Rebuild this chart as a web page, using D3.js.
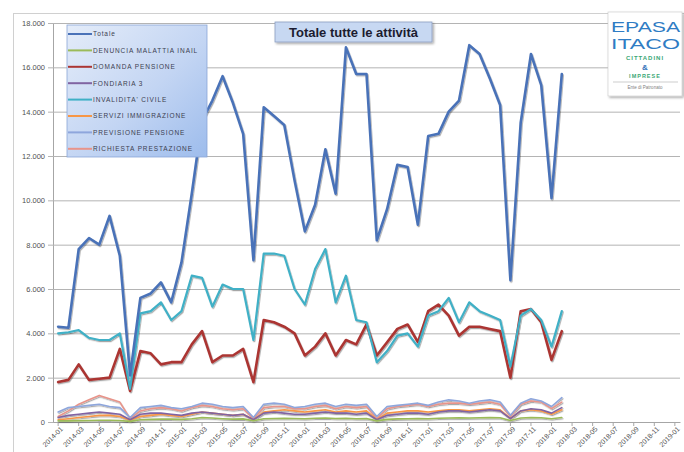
<!DOCTYPE html>
<html>
<head>
<meta charset="utf-8">
<script src="https://cdn.jsdelivr.net/npm/d3@7"></script>
<style>
  html, body { margin: 0; padding: 0; background: #fff; }
  svg { display: block; font-family: "Liberation Sans", Arial, sans-serif; }
</style>
</head>
<body>
<svg id="chart" width="684" height="452"></svg>
<script>
// Monthly categories on the x axis (the last months have no data yet)
const months = [
  "2014-01","2014-02","2014-03","2014-04","2014-05","2014-06","2014-07","2014-08","2014-09","2014-10","2014-11","2014-12",
  "2015-01","2015-02","2015-03","2015-04","2015-05","2015-06","2015-07","2015-08","2015-09","2015-10","2015-11","2015-12",
  "2016-01","2016-02","2016-03","2016-04","2016-05","2016-06","2016-07","2016-08","2016-09","2016-10","2016-11","2016-12",
  "2017-01","2017-02","2017-03","2017-04","2017-05","2017-06","2017-07","2017-08","2017-09","2017-10","2017-11","2017-12",
  "2018-01","2018-02","2018-03","2018-04","2018-05","2018-06","2018-07","2018-08","2018-09","2018-10","2018-11","2018-12",
  "2019-01"
];

const seriesNames = [
  "Totale",
  "DENUNCIA MALATTIA INAIL",
  "DOMANDA PENSIONE",
  "FONDIARIA 3",
  "INVALIDITA' CIVILE",
  "SERVIZI IMMIGRAZIONE",
  "PREVISIONE PENSIONE",
  "RICHIESTA PRESTAZIONE"
];

const totale = [4300,4250,7800,8300,8000,9300,7500,2100,5600,5800,6300,5400,7200,10300,13600,14500,15600,14400,13000,7300,
  14200,13800,13400,10900,8600,9800,12300,10300,16900,15700,15700,8200,9600,11600,11500,8900,12900,13000,14000,14500,
  17000,16600,15500,14300,6400,13500,16600,15200,10100,15700];
const denunciaMalattia = [50,50,60,70,80,80,70,30,100,120,130,130,120,150,200,180,150,130,140,60,
  150,160,170,160,150,170,180,160,170,150,160,50,120,140,150,160,150,170,180,190,
  180,190,200,190,70,180,200,190,150,200];
const domandaPensione = [1800,1900,2600,1900,1950,2000,3300,1400,3200,3100,2600,2700,2700,3500,4100,2700,3000,3000,3300,1800,
  4600,4500,4300,4000,3000,3400,4000,3000,3700,3500,4400,3000,3600,4200,4400,3600,5000,5300,4800,3900,
  4300,4300,4200,4100,2000,5000,5100,4500,2800,4100];
const fondiaria = [200,300,350,400,450,400,350,100,350,400,400,350,300,400,450,400,350,300,350,100,
  400,450,400,350,350,400,450,400,400,350,400,100,300,350,400,400,350,450,500,500,
  450,500,550,500,150,500,600,550,400,650];
const invaliditaCivile = [4000,4050,4150,3800,3700,3700,4000,1500,4900,5000,5400,4600,5000,6600,6500,5200,6200,6000,6000,3700,
  7600,7600,7500,6000,5300,6900,7800,5400,6600,4600,4500,2700,3200,3900,4000,3400,4800,5000,5600,4500,
  5400,5000,4800,4600,2500,4800,5100,4600,3400,5000];
const serviziImmigrazione = [100,150,200,250,300,300,250,80,250,300,350,300,250,350,450,400,350,300,350,100,
  450,500,550,500,450,500,550,450,500,450,500,100,400,450,500,500,450,500,550,550,
  500,550,600,550,150,500,550,500,350,550];
const previsionePensione = [450,650,700,750,800,700,650,200,650,700,750,650,600,700,850,800,700,650,700,200,
  800,850,800,650,700,800,850,700,800,750,800,250,700,750,800,850,750,900,1000,950,
  850,950,1000,900,300,850,1050,950,700,1100];
const richiestaPrestazione = [250,500,800,1000,1200,1050,900,150,500,600,650,600,500,650,750,700,600,550,600,150,
  650,700,700,600,600,700,750,600,700,650,700,150,600,700,750,800,700,800,850,850,
  800,850,900,800,250,800,950,900,600,900];

const yTickValues = [0,2000,4000,6000,8000,10000,12000,14000,16000,18000];
const yTickLabels = ["0","2.000","4.000","6.000","8.000","10.000","12.000","14.000","16.000","18.000"];
const xTickLabels = months.filter((m, i) => i % 2 === 0);

const seriesValues = [totale, denunciaMalattia, domandaPensione, fondiaria,
  invaliditaCivile, serviziImmigrazione, previsionePensione, richiestaPrestazione];
const seriesColors = ["#4a72b8","#9bbb59","#ab3533","#8064a2","#3fb0c6","#f79646","#8ea6dc","#e8948a"];
const seriesWidths = [2.6, 1.6, 2.6, 1.6, 2.2, 1.6, 1.6, 1.6];

const svg = d3.select("#chart");
const defs = svg.append("defs");

const shadow = defs.append("filter").attr("id", "lineShadow")
  .attr("x", "-5%").attr("y", "-5%").attr("width", "110%").attr("height", "110%");
shadow.append("feDropShadow").attr("dx", 0.8).attr("dy", 1.2)
  .attr("stdDeviation", 0.7).attr("flood-color", "#000").attr("flood-opacity", 0.35);

const boxShadow = defs.append("filter").attr("id", "boxShadow")
  .attr("x", "-10%").attr("y", "-10%").attr("width", "130%").attr("height", "130%");
boxShadow.append("feDropShadow").attr("dx", 1.5).attr("dy", 1.5)
  .attr("stdDeviation", 1.2).attr("flood-color", "#000").attr("flood-opacity", 0.35);

const legendGrad = defs.append("linearGradient").attr("id", "legendFill")
  .attr("x1", "0").attr("y1", "0").attr("x2", "1").attr("y2", "1");
legendGrad.append("stop").attr("offset", "0").attr("stop-color", "#e4ecf9");
legendGrad.append("stop").attr("offset", "0.55").attr("stop-color", "#c3d5f3");
legendGrad.append("stop").attr("offset", "1").attr("stop-color", "#9dbcec");

// Chart frame
svg.append("rect").attr("x", 13.5).attr("y", 13.5).attr("width", 700).attr("height", 500)
  .attr("fill", "none").attr("stroke", "#d0d0d0").attr("stroke-width", 1);

const plot = { left: 53, right: 680, top: 23, bottom: 422 };

const x = d3.scaleBand().domain(months).range([plot.left, plot.right]).paddingInner(0).paddingOuter(0);
const y = d3.scaleLinear().domain([0, 18000]).range([plot.bottom, plot.top]);

// Horizontal gridlines and y axis labels
const yAxis = d3.axisLeft(y)
  .tickValues(yTickValues)
  .tickFormat((d, i) => yTickLabels[i])
  .tickSizeInner(-(plot.right - plot.left))
  .tickSizeOuter(0)
  .tickPadding(8);
const gy = svg.append("g").attr("transform", `translate(${plot.left},0)`).call(yAxis);
gy.select(".domain").attr("stroke", "#a6a6a6");
gy.selectAll(".tick line").attr("stroke", "#b4b4b4").attr("x1", -5);
gy.selectAll(".tick text").attr("fill", "#505050").style("font-size", "7.5px");

// X axis
const xAxis = d3.axisBottom(x)
  .tickValues(xTickLabels)
  .tickSizeInner(4)
  .tickSizeOuter(0)
  .tickPadding(3);
const gx = svg.append("g").attr("transform", `translate(0,${plot.bottom})`).call(xAxis);
gx.select(".domain").attr("stroke", "#a6a6a6");
gx.selectAll(".tick line").attr("stroke", "#a6a6a6");
gx.selectAll(".tick text")
  .attr("fill", "#505050").style("font-size", "7px")
  .attr("text-anchor", "end")
  .attr("dx", "-0.2em").attr("dy", "0.3em")
  .attr("transform", "rotate(-45)");

// Series lines
const line = d3.line()
  .x((d, i) => x(months[i]) + x.bandwidth() / 2)
  .y(d => y(d));

const linesG = svg.append("g").attr("filter", "url(#lineShadow)");
const drawOrder = [7, 6, 5, 3, 1, 2, 4, 0];
drawOrder.forEach(k => {
  linesG.append("path")
    .datum(seriesValues[k])
    .attr("d", line)
    .attr("fill", "none")
    .attr("stroke", seriesColors[k])
    .attr("stroke-width", seriesWidths[k])
    .attr("stroke-linejoin", "round")
    .attr("stroke-linecap", "round");
});

// Legend
const legend = svg.append("g").attr("transform", "translate(67,25)");
legend.append("rect").attr("width", 140).attr("height", 132)
  .attr("fill", "url(#legendFill)").attr("stroke", "#8aa6d6").attr("stroke-width", 0.8);
seriesNames.forEach((name, i) => {
  const row = legend.append("g").attr("transform", `translate(0,${9 + i * 16.4})`);
  row.append("line").attr("x1", 1).attr("x2", 25).attr("y1", 0).attr("y2", 0)
    .attr("stroke", seriesColors[i]).attr("stroke-width", 2);
  row.append("text").attr("x", 26).attr("y", 2.3)
    .attr("fill", "#3c4050").style("font-size", "6.5px").style("letter-spacing", "0.9px")
    .text(name);
});

// Title
const titleG = svg.append("g");
titleG.append("rect").attr("x", 275).attr("y", 22).attr("width", 157).attr("height", 20)
  .attr("fill", "#c7d8f2").attr("stroke", "#8c9fc0").attr("stroke-width", 0.8)
  .attr("filter", "url(#boxShadow)");
titleG.append("text").attr("x", 353.5).attr("y", 36.5).attr("text-anchor", "middle")
  .attr("fill", "#1c1c30").style("font-size", "13px").style("font-weight", "bold")
  .text("Totale tutte le attività");

// Logo
const logo = svg.append("g");
logo.append("rect").attr("x", 608).attr("y", 12).attr("width", 74).attr("height", 84)
  .attr("fill", "#fff").attr("stroke", "#c8c8c8").attr("stroke-width", 0.6)
  .attr("filter", "url(#boxShadow)");
logo.append("text").attr("x", 611).attr("y", 32).attr("textLength", 69).attr("lengthAdjust", "spacingAndGlyphs")
  .attr("fill", "#2f7cc4").style("font-size", "14px").text("EPASA");
logo.append("text").attr("x", 611).attr("y", 48.5).attr("textLength", 69).attr("lengthAdjust", "spacingAndGlyphs")
  .attr("fill", "#2f7cc4").style("font-size", "14px").text("ITACO");
logo.append("text").attr("x", 645).attr("y", 60).attr("text-anchor", "middle")
  .attr("fill", "#3aa775").style("font-size", "6px").style("font-weight", "bold").style("letter-spacing", "1px")
  .text("CITTADINI");
logo.append("text").attr("x", 645).attr("y", 70).attr("text-anchor", "middle")
  .attr("fill", "#2f6fb8").style("font-size", "8px").style("font-weight", "bold")
  .text("&");
logo.append("text").attr("x", 645).attr("y", 78).attr("text-anchor", "middle")
  .attr("fill", "#3aa775").style("font-size", "5.5px").style("font-weight", "bold").style("letter-spacing", "1px")
  .text("IMPRESE");
logo.append("line").attr("x1", 613).attr("x2", 678).attr("y1", 82).attr("y2", 82)
  .attr("stroke", "#9a9a9a").attr("stroke-width", 0.5);
logo.append("text").attr("x", 645).attr("y", 88.5).attr("text-anchor", "middle")
  .attr("fill", "#808080").style("font-size", "4.5px")
  .text("Ente di Patronato");
</script>
</body>
</html>
